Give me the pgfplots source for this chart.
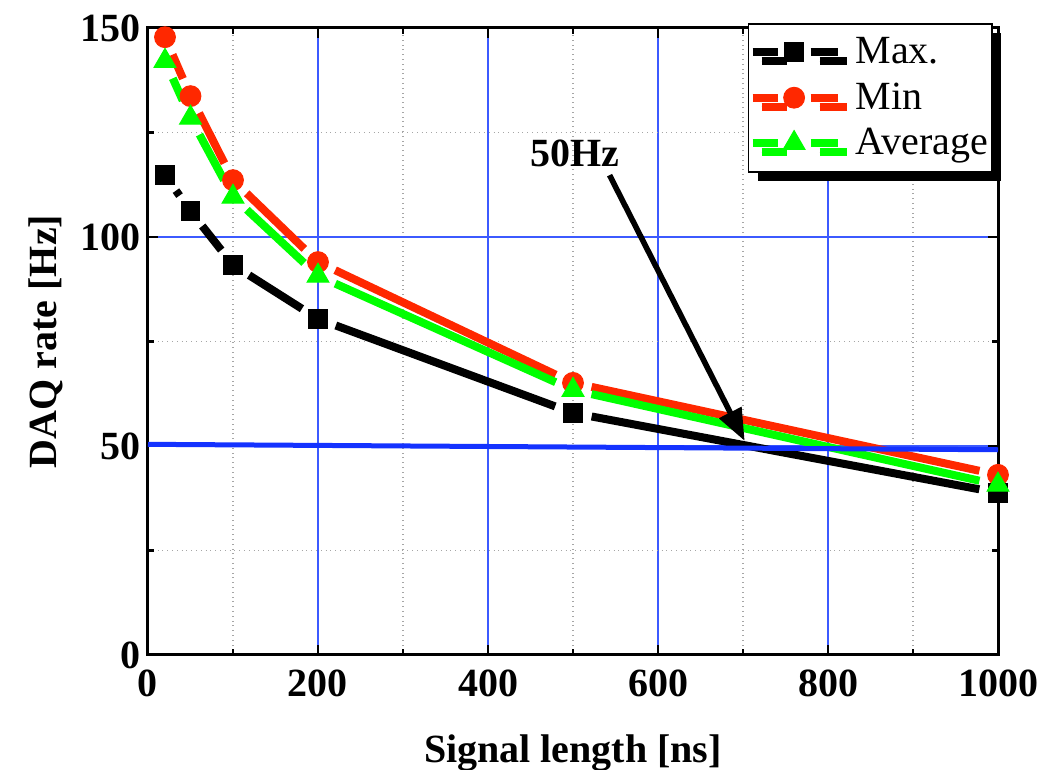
\documentclass[border=0pt]{standalone}
\usepackage{pgfplots}
\pgfplotsset{compat=1.18}
\usepackage{fontspec}
\setmainfont{Liberation Serif}
\usetikzlibrary{arrows.meta,shadows}
\definecolor{cred}{RGB}{255,40,0}
\definecolor{cgreen}{RGB}{0,255,0}
\definecolor{cblue}{RGB}{20,50,255}
\definecolor{gblue}{RGB}{60,90,255}
\pgfplotsset{
  seg/.style={line width=4pt, shorten <=9.5pt, shorten >=9.5pt, forget plot},
}
\begin{document}
\begin{tikzpicture}
\path[use as bounding box] (-74pt,-57.5pt) rectangle (445.5pt,327.5pt);
\begin{axis}[
  scale only axis,
  width=425pt, height=313.5pt,
  xmin=0, xmax=1000, ymin=0, ymax=150,
  xtick={0,200,400,600,800,1000}, ytick={0,50,100,150},
  xticklabels={0,200,400,600,800,1000},
  yticklabels={0,50,100,150},
  minor x tick num=1, minor y tick num=1,
  tick align=inside,
  major tick length=5pt, minor tick length=3pt,
  every tick/.style={black, line width=1.2pt},
  axis line style={line width=1.5pt},
  grid=both,
  major grid style={gblue, line width=0.6pt},
  minor grid style={gray!70, dotted, line width=0.6pt},
  ticklabel style={font=\bfseries\fontsize{20}{24}\selectfont},
  xticklabel style={yshift=-4pt},
  xlabel={\bfseries Signal length [ns]},
  ylabel={\bfseries DAQ rate [Hz]},
  label style={font=\bfseries\fontsize{20}{24}\selectfont},
  xlabel style={yshift=-12pt},
  ylabel style={yshift=2pt},
  legend style={at={(rel axis cs:0.994,1.008)}, anchor=north east,
    draw=black, line width=0.8pt, fill=white,
    font=\fontsize{20}{24}\selectfont,
    drop shadow={shadow xshift=4.5pt, shadow yshift=-4.5pt, fill=black, opacity=1},
    row sep=4pt, inner xsep=0pt, inner ysep=5pt},
  legend cell align=left,
  legend image code/.code={
    \draw[#1, solid] (0pt,0pt) -- (12.5pt,0pt) (29pt,0pt) -- (42.5pt,0pt);
    \draw[#1, solid] plot coordinates {(20.75pt,0pt)};
  },
  clip=false,
]
% Max.
\addplot[black, seg] coordinates {(20,114.8) (50,106.2)};
\addplot[black, seg] coordinates {(50,106.2) (100,93.3)};
\addplot[black, seg] coordinates {(100,93.3) (200,80.4)};
\addplot[black, seg] coordinates {(200,80.4) (500,57.9)};
\addplot[black, seg] coordinates {(500,57.9) (1000,38.8)};
% Min
\addplot[cred, seg] coordinates {(20,147.8) (50,133.7)};
\addplot[cred, seg] coordinates {(50,133.7) (100,113.6)};
\addplot[cred, seg] coordinates {(100,113.6) (200,94.0)};
\addplot[cred, seg] coordinates {(200,94.0) (500,65.1)};
\addplot[cred, seg] coordinates {(500,65.1) (1000,43.1)};
% Average
\addplot[cgreen, seg] coordinates {(20,142.1) (50,128.5)};
\addplot[cgreen, seg] coordinates {(50,128.5) (100,109.6)};
\addplot[cgreen, seg] coordinates {(100,109.6) (200,90.7)};
\addplot[cgreen, seg] coordinates {(200,90.7) (500,63.4)};
\addplot[cgreen, seg] coordinates {(500,63.4) (1000,40.7)};

\addplot[black, line width=4pt, only marks, mark=square*, mark size=4.7pt, mark options={solid, line width=0.5pt}]
  coordinates {(20,114.8) (50,106.2) (100,93.3) (200,80.4) (500,57.9) (1000,38.8)};
\addlegendentry{\hspace{5pt}Max.}
\addplot[cred, line width=4pt, only marks, mark=*, mark size=5.2pt, mark options={solid, line width=0.5pt}]
  coordinates {(20,147.8) (50,133.7) (100,113.6) (200,94.0) (500,65.1) (1000,43.1)};
\addlegendentry{\hspace{5pt}Min}
\addplot[cgreen, line width=4pt, only marks, mark=triangle*, mark size=6.3pt, mark options={solid, line width=0.5pt}]
  coordinates {(20,142.1) (50,128.5) (100,109.6) (200,90.7) (500,63.4) (1000,40.7)};
\addlegendentry{\hspace{5pt}Average}
\addplot[cblue, line width=2.5pt, forget plot] coordinates {(0,50.4) (1000,49.1)};
\draw[black, line width=2.8pt, -{Triangle[length=16pt, width=12pt]}] (axis cs:543,114.8) -- (axis cs:702,51.2);
\node[font=\bfseries\fontsize{20}{24}\selectfont] at (axis cs:502,120) {50Hz};
\end{axis}
\end{tikzpicture}
\end{document}
